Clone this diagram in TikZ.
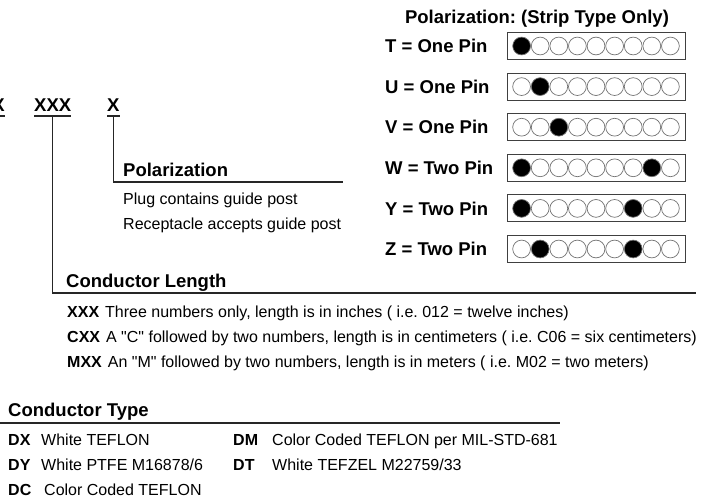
\documentclass[tikz,border=0pt]{standalone}
\usepackage{fontspec}
\setmainfont{Liberation Sans}[Ligatures=TeXOff]
\frenchspacing
\begin{document}
\begin{tikzpicture}[x=1pt,y=-1pt,
  body/.style={inner sep=0pt, anchor=base west, font=\fontsize{16}{18}\selectfont},
  bodyb/.style={body, font=\fontsize{16}{18}\selectfont\bfseries},
  head/.style={inner sep=0pt, anchor=base west, font=\fontsize{18.5}{20}\selectfont\bfseries},
  ln/.style={line width=1.4pt, draw=black!85},
  pinbox/.style={draw=black!75, line width=1.1pt, inner sep=0pt, minimum width=178pt, minimum height=27pt, anchor=west},
  pinoff/.style={draw=black!55, line width=0.7pt, fill=white},
  pinon/.style={draw=black!55, line width=0.7pt, fill=black}]
\useasboundingbox (0,0) rectangle (701,503);

% part number codes
\node[head, anchor=base east] (c1) at (5,111) {X};
\node[head] (c2) at (34,111) {XXX};
\node[head] (c3) at (107,111) {X};
\foreach \c in {c1,c2,c3}{
  \draw[ln] ([yshift=-5pt]\c.base west) -- ([yshift=-5pt]\c.base east);
}
\coordinate (polend) at (343,182);
\coordinate (clend) at (696,293);
\draw[ln] ([yshift=-5pt]c3.base) |- (polend);
\draw[ln] ([yshift=-5pt]c2.base) |- (clend);

% polarization strip table
\node[head, anchor=base] (title) at (537,24) {Polarization: (Strip Type Only)};
\foreach \L/\N/\a/\b [count=\i from 0] in {T/One/1/0, U/One/2/0, V/One/3/0, W/Two/1/8, Y/Two/1/7, Z/Two/2/7}{
  \pgfmathsetmacro\yc{46+40.6*\i}
  \node[head] (lab\L) at (385,\yc+6.6) {\L\ = \N\ Pin};
  \node[pinbox] (box\L) at (507,\yc) {};
  \foreach \j in {1,...,9}{
    \pgfmathtruncatemacro\on{or(\j==\a,\j==\b)}
    \ifnum\on=1
      \draw[pinon] (521.6+18.6*\j-18.6,\yc) circle (8.9pt);
    \else
      \draw[pinoff] (521.6+18.6*\j-18.6,\yc) circle (8.9pt);
    \fi
  }
}

% polarization
\node[head] (polh) at (123,176) {Polarization};
\node[body] (plug) at (123,204) {Plug contains guide post};
\node[body] (recp) at (123,229) {Receptacle accepts guide post};

% conductor length
\node[head] (clh) at (66,287) {Conductor Length};
\node[body] (l1) at (67,317.7) {\textbf{XXX}\hspace{6pt}Three numbers only, length is in inches ( i.e. 012 = twelve inches)};
\node[body] (l2) at (67,342.7) {\textbf{CXX}\hspace{6pt}A "C" followed by two numbers, length is in centimeters ( i.e. C06 = six centimeters)};
\node[body] (l3) at (67,367.7) {\textbf{MXX}\hspace{6pt}An "M" followed by two numbers, length is in meters ( i.e. M02 = two meters)};

% conductor type
\node[head] (cth) at (8,416) {Conductor Type};
\coordinate (ctl) at (0,423);
\coordinate (ctr) at (560,423);
\draw[ln] (ctl) -- (ctr);
\node[bodyb] (dx) at (8,445.7) {DX};
\node[body] (dxt) at (41,445.7) {White TEFLON};
\node[bodyb] (dy) at (8,470.7) {DY};
\node[body] (dyt) at (41,470.7) {White PTFE M16878/6};
\node[bodyb] (dc) at (8,495.7) {DC};
\node[body] (dct) at (44,495.7) {Color Coded TEFLON};
\node[bodyb] (dm) at (233,445.7) {DM};
\node[body] (dmt) at (272,445.7) {Color Coded TEFLON per MIL-STD-681};
\node[bodyb] (dt) at (233,470.7) {DT};
\node[body] (dtt) at (272,470.7) {White TEFZEL M22759/33};
\end{tikzpicture}
\end{document}
